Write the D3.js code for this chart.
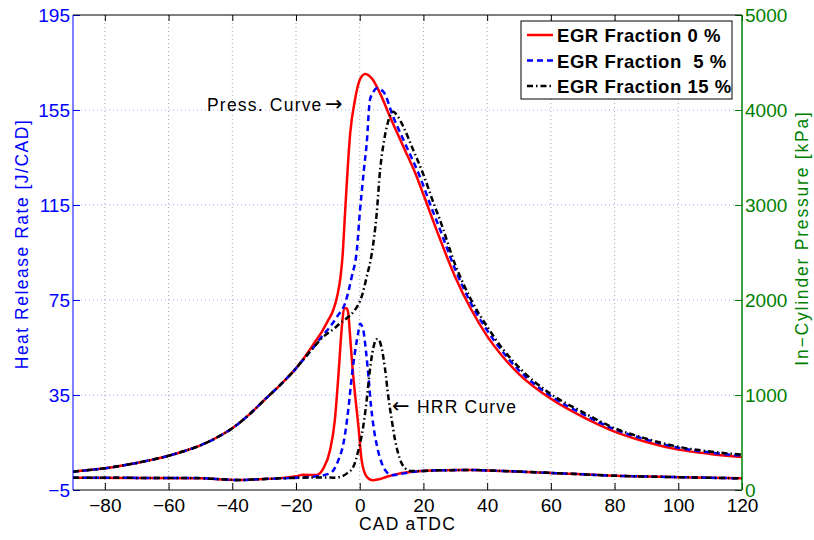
<!DOCTYPE html>
<html>
<head>
<meta charset="utf-8">
<script src="https://cdn.jsdelivr.net/npm/d3@7"></script>
<style>
  body { margin: 0; background: #fff; }
  svg { display: block; font-family: 'Liberation Sans', Arial, Helvetica, sans-serif; }
</style>
</head>
<body>
<svg id="chart" width="814" height="540"></svg>
<script>
// ── DATA ────────────────────────────────────────────────────────────────
const cadTicks   = [-80, -60, -40, -20, 0, 20, 40, 60, 80, 100, 120];
const hrrTicks   = [-5, 35, 75, 115, 155, 195];
const pressTicks = [0, 1000, 2000, 3000, 4000, 5000];
const seriesNames = ['EGR Fraction 0 %', 'EGR Fraction  5 %', 'EGR Fraction 15 %'];

// in-cylinder pressure [kPa] vs CAD
const pressCad0 = [-90,-85,-80,-75,-70,-65,-60,-55,-50,-45,-40,-35,-30,-25,-20,-18,-16,-14,-12,-10,-8.3,-7,-6,-5.3,-4.8,-4.2,-3,-1.5,0,1.7,3.8,6.4,9.5,13.7,17.9,20,25,30,35,40,45,50,60,70,80,90,100,110,120];
const press0    = [193,210,228,255,285,320,360,410,470,550,650,785,945,1105,1280,1365,1460,1560,1660,1780,1895,2050,2250,2500,2800,3150,3750,4105,4316,4379,4333,4175,3929,3614,3298,3110,2660,2240,1900,1620,1400,1220,960,770,615,505,425,380,347];

const pressCad5 = [-90,-85,-80,-75,-70,-65,-60,-55,-50,-45,-40,-35,-30,-25,-20,-18.7,-15,-12,-9.3,-7,-4.6,-2.5,-0.9,0.1,0.6,1.4,2.2,3.2,4.3,5.3,7.4,10.5,14.7,18.9,22.6,25,30,35,40,45,50,60,70,80,90,100,110,120];
const press5    = [193,210,228,255,285,320,360,410,470,550,650,785,945,1105,1280,1333,1480,1610,1719,1830,1965,2245,2526,2947,3123,3400,3649,4105,4190,4228,4193,3929,3614,3298,2965,2760,2320,1960,1680,1450,1260,990,800,640,530,445,395,360];

const pressCad15 = [-90,-85,-80,-75,-70,-65,-60,-55,-50,-45,-40,-35,-30,-25,-20,-18.7,-15,-11.4,-8,-6.2,-4,-1.5,0.6,2.2,3.8,5.3,6.4,7.5,8.5,10.5,12,13.7,16.8,20,23.6,25,30,35,40,45,50,60,70,80,90,100,110,120];
const press15    = [193,210,228,255,285,320,360,410,470,550,650,785,945,1105,1280,1333,1480,1614,1700,1754,1810,1895,2035,2245,2491,2900,3368,3650,3824,3982,3930,3824,3579,3320,2982,2860,2370,2000,1720,1480,1290,1010,820,650,540,455,405,372];

// heat release rate [J/CAD] vs CAD
const hrrCad0 = [-90,-70,-50,-42,-38,-32,-25,-20,-17.7,-13.5,-11.4,-9.3,-7.8,-6.7,-5.6,-4.9,-4.1,-3.6,-3,-2.3,-1.5,-0.4,0.6,2.2,4,6,8.5,12,16.8,25,35,45,60,80,100,120];
const hrr0    = [0.2,0.1,0,-0.6,-0.8,-0.5,0,0.8,1.4,1.3,4.1,11.8,24.5,43,63.8,71.5,71.5,69.4,59.5,47,35.7,21.7,7.6,0.6,-0.9,-0.5,0.6,1.8,2.7,3.3,3.4,3.0,2.2,1.0,0.4,-0.1];

const hrrCad5 = [-90,-70,-50,-42,-38,-32,-25,-20,-14.6,-9.3,-6.7,-5.1,-3.6,-2.5,-1.5,-0.5,0.1,1,2,2.8,3.5,4.3,5.5,7,8.5,10,12,16,25,35,45,60,80,100,120];
const hrr5    = [0.2,0.1,0,-0.6,-0.8,-0.5,-0.1,0.2,0.6,2,7.6,14.7,28.7,42.7,53,61,65,63,53,42,31,22,13,6,2.5,1.2,1.5,2.5,3.3,3.4,3.0,2.2,1.0,0.4,-0.1];

const hrrCad15 = [-90,-70,-50,-42,-38,-32,-25,-20,-14.6,-8,-6.2,-4,-2,-0.4,1.1,2.2,3.2,4.3,5.3,5.8,6.8,7.9,9,10,11.1,12.5,14,16,20,25,35,45,60,80,100,120];
const hrr15    = [0.2,0.1,0,-0.6,-0.8,-0.5,-0.1,0.1,0.3,0.2,0.5,2,4.8,11.8,21.7,32.9,45.5,55,58.5,58.5,55.3,46.5,34,25,16,8.5,4.5,3.0,3.0,3.3,3.4,3.0,2.2,1.0,0.4,-0.1];

// ── LAYOUT ──────────────────────────────────────────────────────────────
const X0 = 73, X1 = 742, Y0 = 15, Y1 = 490;
const BLUE = '#0000ff', GREEN = '#007f00';
const styles = [
  { color: '#ff0000', dash: null },
  { color: '#0000ff', dash: '6,4' },
  { color: '#000000', dash: '6,3,1.5,3' }
];

const svg = d3.select('#chart');
const x  = d3.scaleLinear().domain([-90, 120]).range([X0, X1]);
const yL = d3.scaleLinear().domain([-5, 195]).range([Y1, Y0]);
const yR = d3.scaleLinear().domain([0, 5000]).range([Y1, Y0]);

// Grille
svg.append('g').selectAll('line').data(cadTicks.filter(d => d < 120)).enter().append('line')
  .attr('x1', d => x(d)).attr('x2', d => x(d)).attr('y1', Y0).attr('y2', Y1)
  .attr('stroke', '#000').attr('stroke-opacity', 0.35).attr('stroke-dasharray', '1,3');
svg.append('g').selectAll('line').data(hrrTicks.filter(d => d > -5 && d < 195)).enter().append('line')
  .attr('y1', d => yL(d)).attr('y2', d => yL(d)).attr('x1', X0).attr('x2', X1)
  .attr('stroke', BLUE).attr('stroke-opacity', 0.35).attr('stroke-dasharray', '1,3');

// Courbes
svg.append('clipPath').attr('id', 'clip').append('rect')
  .attr('x', X0).attr('y', Y0).attr('width', X1 - X0).attr('height', Y1 - Y0);
const plot = svg.append('g').attr('clip-path', 'url(#clip)');

const pressSets = [[pressCad0, press0], [pressCad5, press5], [pressCad15, press15]];
const hrrSets   = [[hrrCad0, hrr0], [hrrCad5, hrr5], [hrrCad15, hrr15]];

const lineP = d3.line().x(d => x(d[0])).y(d => yR(d[1])).curve(d3.curveMonotoneX);
const lineH = d3.line().x(d => x(d[0])).y(d => yL(d[1])).curve(d3.curveMonotoneX);

styles.forEach((s, i) => {
  const pts = pressSets[i][0].map((c, k) => [c, pressSets[i][1][k]]);
  const hts = hrrSets[i][0].map((c, k) => [c, hrrSets[i][1][k]]);
  [[pts, lineP], [hts, lineH]].forEach(([data, gen]) => {
    plot.append('path').datum(data).attr('d', gen)
      .attr('fill', 'none').attr('stroke', s.color).attr('stroke-width', 2.5)
      .attr('stroke-dasharray', s.dash);
  });
});

// Axes
const font = "'Liberation Sans', Arial, Helvetica, sans-serif";
function styleAxis(g, color) {
  g.select('.domain').remove();
  g.selectAll('.tick line').attr('stroke', color);
  g.selectAll('.tick text').attr('fill', color).style('font-size', '19px').style('font-family', font);
}
svg.append('g').attr('transform', `translate(0,${Y1})`)
  .call(d3.axisBottom(x).tickValues(cadTicks).tickSizeInner(-7).tickSizeOuter(0).tickPadding(9))
  .call(g => styleAxis(g, '#000'));
svg.append('g').attr('transform', `translate(0,${Y0})`)
  .call(d3.axisTop(x).tickValues(cadTicks).tickSizeInner(-6).tickSizeOuter(0).tickFormat(''))
  .call(g => styleAxis(g, '#000'));
svg.append('g').attr('transform', `translate(${X0},0)`)
  .call(d3.axisLeft(yL).tickValues(hrrTicks).tickSizeInner(-7).tickSizeOuter(0).tickPadding(3))
  .call(g => styleAxis(g, BLUE));
svg.append('g').attr('transform', `translate(${X1},0)`)
  .call(d3.axisRight(yR).tickValues(pressTicks).tickFormat(d3.format('d'))
    .tickSizeInner(-7).tickSizeOuter(0).tickPadding(3))
  .call(g => styleAxis(g, GREEN));

// Cadre
svg.append('line').attr('x1', X0).attr('x2', X1).attr('y1', Y0).attr('y2', Y0).attr('stroke', '#000');
svg.append('line').attr('x1', X0).attr('x2', X1).attr('y1', Y1).attr('y2', Y1).attr('stroke', '#000');
svg.append('line').attr('x1', X0).attr('x2', X0).attr('y1', Y0).attr('y2', Y1).attr('stroke', BLUE);
svg.append('line').attr('x1', X1).attr('x2', X1).attr('y1', Y0).attr('y2', Y1).attr('stroke', GREEN).attr('stroke-width', 1.5);

// Titres d'axes
const labelStyle = sel => sel.style('font-size', '17.5px').style('letter-spacing', '1.2px').style('font-family', font);
svg.append('text').attr('x', (X0 + X1) / 2).attr('y', 530).attr('text-anchor', 'middle')
  .text('CAD aTDC').call(labelStyle);
svg.append('text').attr('transform', 'translate(28,244) rotate(-90)')
  .attr('text-anchor', 'middle').attr('fill', BLUE).text('Heat Release Rate [J/CAD]')
  .call(labelStyle).style('letter-spacing', '1.5px');
svg.append('text').attr('transform', 'translate(808,238) rotate(-90)')
  .attr('text-anchor', 'middle').attr('fill', GREEN).text('In\u2212Cylinder Pressure [kPa]')
  .call(labelStyle).style('letter-spacing', '1.8px');

// Annotations (flèches en DejaVu, plus longues)
const arrowFont = "'DejaVu Sans', sans-serif";
const press = svg.append('text').attr('x', 207).attr('y', 111).call(labelStyle);
press.append('tspan').text('Press. Curve');
press.append('tspan').attr('x', 325).style('font-family', arrowFont).style('font-size', '21px')
  .style('letter-spacing', '0px').text('\u2192');
const hrr = svg.append('text').attr('x', 392).attr('y', 413).call(labelStyle);
hrr.append('tspan').style('font-family', arrowFont).style('font-size', '21px')
  .style('letter-spacing', '0px').text('\u2190');
hrr.append('tspan').attr('x', 417).text('HRR Curve');

// Légende
const leg = svg.append('g');
leg.append('rect').attr('x', 521).attr('y', 21).attr('width', 211).attr('height', 78)
  .attr('fill', '#fff').attr('stroke', '#000');
seriesNames.forEach((name, i) => {
  const cy = 35 + i * 25.5;
  leg.append('line').attr('x1', 527).attr('x2', 553).attr('y1', cy).attr('y2', cy)
    .attr('stroke', styles[i].color).attr('stroke-width', 2.5).attr('stroke-dasharray', styles[i].dash);
  leg.append('text').attr('x', 557).attr('y', cy + 7).text(name)
    .style('font-size', '18.5px').style('font-weight', 'bold').style('letter-spacing', '0.55px')
    .style('white-space', 'pre').style('font-family', font);
});
</script>
</body>
</html>
